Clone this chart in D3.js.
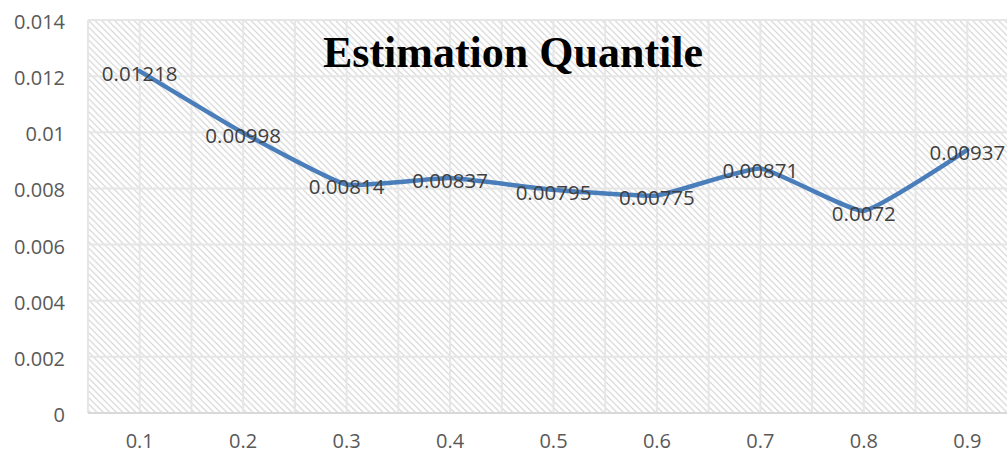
<!DOCTYPE html>
<html>
<head>
<meta charset="utf-8">
<script src="https://cdn.jsdelivr.net/npm/d3@7"></script>
<style>
  body { margin: 0; background: #fff; }
  svg { display: block; }
</style>
</head>
<body>
<svg id="chart"></svg>
<script>
// values
const quantiles = ["0.1", "0.2", "0.3", "0.4", "0.5", "0.6", "0.7", "0.8", "0.9"];
const estimates = [0.01218, 0.00998, 0.00814, 0.00837, 0.00795, 0.00775, 0.00871, 0.0072, 0.00937];
const labels = ["0.01218", "0.00998", "0.00814", "0.00837", "0.00795", "0.00775", "0.00871", "0.0072", "0.00937"];
const yTicks = [0, 0.002, 0.004, 0.006, 0.008, 0.01, 0.012, 0.014];
const yTickLabels = ["0", "0.002", "0.004", "0.006", "0.008", "0.01", "0.012", "0.014"];

const width = 1007,
    height = 454;

// plot area runs a bit past the right edge of the picture
const margin = {top: 20, left: 88, bottom: 41};
const plotW = 931,
    plotH = height - margin.top - margin.bottom;

const svg = d3.select("#chart")
    .attr("width", width)
    .attr("height", height);

const defs = svg.append("defs");
const pat = defs.append("pattern")
    .attr("id", "hatch")
    .attr("patternUnits", "userSpaceOnUse")
    .attr("width", 6.5)
    .attr("height", 6.5);
pat.append("rect").attr("width", 6.5).attr("height", 6.5).attr("fill", "#fff");
pat.append("path")
    .attr("d", "M-1,-1L7.5,7.5M-1,5.5L1,7.5M5.5,-1L7.5,1")
    .attr("stroke", "#d0d0d0")
    .attr("stroke-width", 1.1);

const g = svg.append("g")
    .attr("transform", "translate(" + margin.left + "," + margin.top + ")");

const x = d3.scaleBand()
    .domain(quantiles)
    .range([0, plotW]);

const y = d3.scaleLinear()
    .domain([0, 0.014])
    .range([plotH, 0]);

g.append("rect")
    .attr("width", plotW)
    .attr("height", plotH)
    .attr("fill", "url(#hatch)");

// vertical gridlines at category centres and boundaries
const vLines = [];
quantiles.forEach(function(q) {
    vLines.push(x(q));
    vLines.push(x(q) + x.bandwidth() / 2);
});
vLines.push(plotW);

g.selectAll(".vgrid")
    .data(vLines)
    .enter().append("line")
    .attr("class", "vgrid")
    .attr("x1", d => d).attr("x2", d => d)
    .attr("y1", 0).attr("y2", plotH)
    .attr("stroke", "#e6e6e6")
    .attr("stroke-width", 2);

g.selectAll(".hgrid")
    .data(yTicks)
    .enter().append("line")
    .attr("class", "hgrid")
    .attr("x1", 0).attr("x2", plotW)
    .attr("y1", d => y(d)).attr("y2", d => y(d))
    .attr("stroke", d => d === 0 ? "#d9d9d9" : "#e6e6e6")
    .attr("stroke-width", 2);

// y axis labels
g.selectAll(".ylab")
    .data(yTicks)
    .enter().append("text")
    .attr("class", "ylab")
    .attr("x", -23)
    .attr("y", d => y(d) + 9)
    .attr("text-anchor", "end")
    .style("font-family", "'Open Sans', sans-serif")
    .style("font-size", "20px")
    .style("fill", "#595959")
    .text((d, i) => yTickLabels[i]);

// x axis labels
g.selectAll(".xlab")
    .data(quantiles)
    .enter().append("text")
    .attr("class", "xlab")
    .attr("x", d => x(d) + x.bandwidth() / 2)
    .attr("y", plotH + 35)
    .attr("text-anchor", "middle")
    .style("font-family", "'Open Sans', sans-serif")
    .style("font-size", "20px")
    .style("fill", "#595959")
    .text(d => d);

const line = d3.line()
    .x((d, i) => x(quantiles[i]) + x.bandwidth() / 2)
    .y(d => y(d))
    .curve(d3.curveCardinal.tension(0.6));

g.append("path")
    .datum(estimates)
    .attr("d", line)
    .attr("fill", "none")
    .attr("stroke", "#4a7ebb")
    .attr("stroke-width", 4.5)
    .attr("stroke-linecap", "round")
    .attr("stroke-linejoin", "round");

// data labels, centred on the points
g.selectAll(".dlab")
    .data(estimates)
    .enter().append("text")
    .attr("class", "dlab")
    .attr("x", (d, i) => x(quantiles[i]) + x.bandwidth() / 2)
    .attr("y", d => y(d) + 10)
    .attr("text-anchor", "middle")
    .style("font-family", "'Open Sans', sans-serif")
    .style("font-size", "20.5px")
    .style("fill", "#404040")
    .text((d, i) => labels[i]);

svg.append("text")
    .attr("x", 513)
    .attr("y", 67)
    .attr("text-anchor", "middle")
    .style("font-family", "'Liberation Serif', serif")
    .style("font-weight", "bold")
    .style("font-size", "44px")
    .style("fill", "#000")
    .text("Estimation Quantile");
</script>
</body>
</html>
